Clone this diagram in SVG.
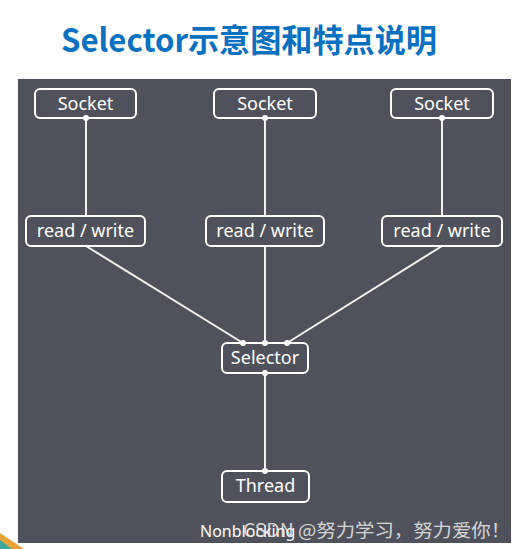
<svg xmlns="http://www.w3.org/2000/svg" width="522" height="549" viewBox="0 0 522 549">
<style>
.box{fill:none;stroke:#ffffff;stroke-width:2;}
.lbl{font-family:"Noto Sans","Open Sans",sans-serif;font-size:18px;fill:#ffffff;text-anchor:middle;}
.line{stroke:#f2f2f2;stroke-width:2;fill:none;}
.dot{fill:#ffffff;}
</style>
<rect width="522" height="549" fill="#ffffff"/>
<text x="61" y="52" font-family="'Noto Sans CJK SC','Noto Sans',sans-serif" font-weight="bold" font-size="32" fill="#0a70c0" textLength="376" lengthAdjust="spacingAndGlyphs">Selector示意图和特点说明</text>
<rect x="18" y="79" width="493" height="464" fill="#4f525c"/>
<polygon points="0,533 24,549 0,549" fill="#e8a33a"/>
<polygon points="0,540 12,549 0,549" fill="#3aa89a"/>
<g id="connectors">
<line class="line" x1="86" y1="118" x2="86" y2="216"/>
<line class="line" x1="265" y1="118" x2="265" y2="216"/>
<line class="line" x1="442" y1="118" x2="442" y2="216"/>
<line class="line" x1="86" y1="246" x2="243" y2="343"/>
<line class="line" x1="265" y1="246" x2="265" y2="343"/>
<line class="line" x1="442" y1="246" x2="287" y2="343"/>
<line class="line" x1="265" y1="373" x2="265" y2="471"/>
<circle class="dot" cx="86" cy="118" r="3"/>
<circle class="dot" cx="265" cy="118" r="3"/>
<circle class="dot" cx="442" cy="118" r="3"/>
<circle class="dot" cx="243" cy="343" r="3"/>
<circle class="dot" cx="265" cy="343" r="3"/>
<circle class="dot" cx="287" cy="343" r="3"/>
<circle class="dot" cx="265" cy="373" r="3"/>
<circle class="dot" cx="265" cy="471" r="3"/>
</g>
<g id="socket1"><rect class="box" x="35" y="89" width="101" height="29" rx="5"/><text class="lbl" x="85.5" y="110">Socket</text></g>
<g id="socket2"><rect class="box" x="214" y="89" width="102" height="29" rx="5"/><text class="lbl" x="265" y="110">Socket</text></g>
<g id="socket3"><rect class="box" x="391" y="89" width="102" height="29" rx="5"/><text class="lbl" x="442" y="110">Socket</text></g>
<g id="rw1"><rect class="box" x="26" y="216" width="119" height="30" rx="5"/><text class="lbl" x="85.5" y="237">read / write</text></g>
<g id="rw2"><rect class="box" x="206" y="216" width="118" height="30" rx="5"/><text class="lbl" x="265" y="237">read / write</text></g>
<g id="rw3"><rect class="box" x="382" y="216" width="120" height="30" rx="5"/><text class="lbl" x="442" y="237">read / write</text></g>
<g id="selector"><rect class="box" x="222" y="343" width="86" height="30" rx="5"/><text class="lbl" x="265" y="364">Selector</text></g>
<g id="thread"><rect class="box" x="222" y="471" width="87" height="31" rx="5"/><text class="lbl" x="265.5" y="492">Thread</text></g>
<text x="200" y="537" font-family="'Noto Sans','Open Sans',sans-serif" font-size="16" fill="#ffffff">Nonblocking</text>
<text x="243" y="537" font-family="'Noto Sans CJK SC','Noto Sans',sans-serif" font-size="18" fill="#e6e6e6" fill-opacity="0.9" textLength="267" lengthAdjust="spacingAndGlyphs">CSDN @努力学习，努力爱你！</text>
</svg>
